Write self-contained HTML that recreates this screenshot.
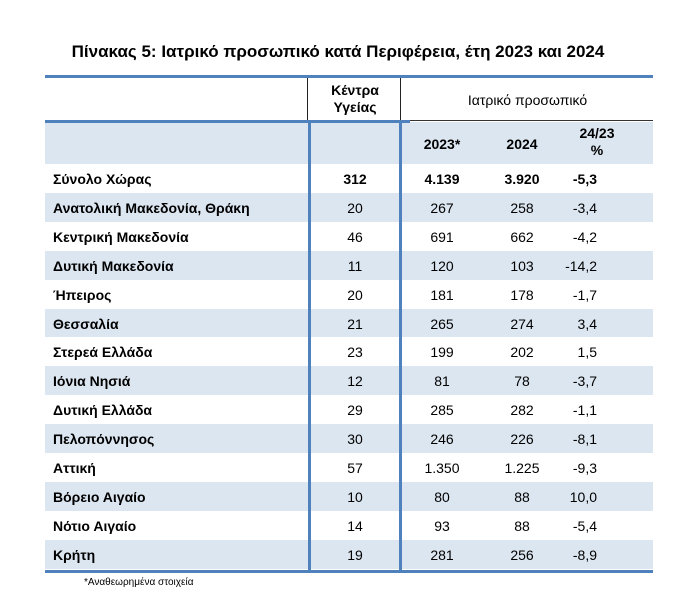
<!DOCTYPE html>
<html><head><meta charset="utf-8"><style>
body{margin:0;width:700px;height:599px;background:#fff;position:relative;font-family:"Liberation Sans","DejaVu Sans",sans-serif;color:#000;overflow:hidden}
.a{position:absolute}
.t{font-size:14px;line-height:16px;white-space:nowrap}
.b{font-weight:bold}
.sh{background:#dce6f1}
.c{text-align:center}
</style></head><body>
<div class="a b" style="left:0;width:676px;top:42px;text-align:center;font-size:17px">Πίνακας 5: Ιατρικό προσωπικό κατά Περιφέρεια, έτη 2023 και 2024</div>
<div class="a sh" style="left:45px;top:122px;width:608px;height:42px"></div>
<div id="rows"></div>
<div class="a" style="left:45px;top:75px;width:608px;height:3px;background:#4f81bd"></div>
<div class="a" style="left:45px;top:120px;width:365px;height:3px;background:#4f81bd"></div>
<div class="a" style="left:410px;top:120px;width:243px;height:1px;background:#333"></div>
<div class="a" style="left:307px;top:78px;width:1px;height:42px;background:#222"></div>
<div class="a" style="left:400px;top:78px;width:1px;height:42px;background:#222"></div>
<div class="a" style="left:308px;top:121px;width:3px;height:451px;background:#4f81bd"></div>
<div class="a" style="left:399px;top:121px;width:3px;height:451px;background:#4f81bd"></div>
<div class="a" style="left:45px;top:570px;width:608px;height:3px;background:#4f81bd"></div>
<div class="a t b c" style="left:311px;width:88px;top:82px;line-height:17px">Κέντρα<br>Υγείας</div>
<div class="a t c" style="left:402px;width:251px;top:92px">Ιατρικό προσωπικό</div>
<div class="a t b c" style="left:402px;width:80px;top:136px">2023*</div>
<div class="a t b c" style="left:482px;width:80px;top:136px">2024</div>
<div class="a t b c" style="left:562px;width:70px;top:125px;line-height:17px">24/23<br>%</div>
<script>
var d=[["Σύνολο Χώρας","312","4.139","3.920","-5,3"],["Ανατολική Μακεδονία, Θράκη","20","267","258","-3,4"],["Κεντρική Μακεδονία","46","691","662","-4,2"],["Δυτική Μακεδονία","11","120","103","-14,2"],["Ήπειρος","20","181","178","-1,7"],["Θεσσαλία","21","265","274","3,4"],["Στερεά Ελλάδα","23","199","202","1,5"],["Ιόνια Νησιά","12","81","78","-3,7"],["Δυτική Ελλάδα","29","285","282","-1,1"],["Πελοπόννησος","30","246","226","-8,1"],["Αττική","57","1.350","1.225","-9,3"],["Βόρειο Αιγαίο","10","80","88","10,0"],["Νότιο Αιγαίο","14","93","88","-5,4"],["Κρήτη","19","281","256","-8,9"]];
var h="";
for(var i=0;i<d.length;i++){var y=164+i*28.9,r=d[i],b=i==0?" b":"";
if(i%2==1)h+='<div class="a sh" style="left:45px;top:'+y+'px;width:608px;height:28.9px"></div>';
var ty=y+7;
h+='<div class="a t b" style="left:53px;top:'+ty+'px">'+r[0]+'</div>';
h+='<div class="a t c'+b+'" style="left:311px;width:88px;top:'+ty+'px">'+r[1]+'</div>';
h+='<div class="a t c'+b+'" style="left:402px;width:80px;top:'+ty+'px">'+r[2]+'</div>';
h+='<div class="a t c'+b+'" style="left:482px;width:80px;top:'+ty+'px">'+r[3]+'</div>';
h+='<div class="a t'+b+'" style="left:540px;width:57px;text-align:right;top:'+ty+'px">'+r[4]+'</div>';}
document.getElementById("rows").outerHTML=h;
</script>
<div class="a" style="left:84px;top:577px;font-size:10px">*Αναθεωρημένα στοιχεία</div>
</body></html>
